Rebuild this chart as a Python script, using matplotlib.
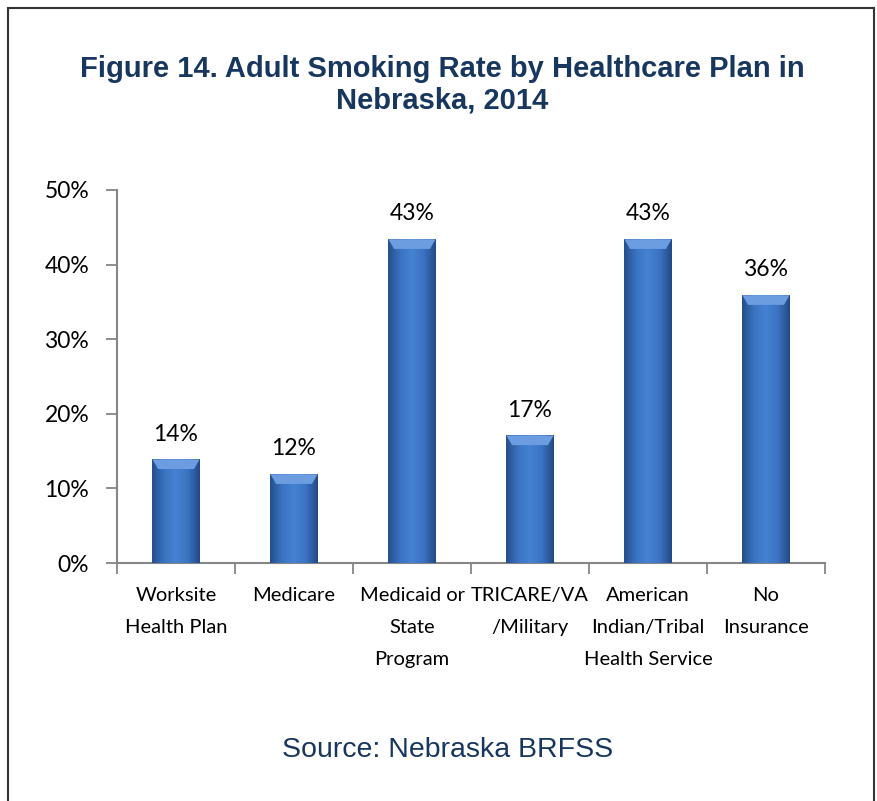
import numpy as np
import matplotlib
matplotlib.use("Agg")
import matplotlib.pyplot as plt
from matplotlib.colors import LinearSegmentedColormap
from matplotlib.patches import Rectangle, Polygon

# data
plans = ["Worksite\nHealth Plan", "Medicare", "Medicaid or\nState\nProgram",
         "TRICARE/VA\n/Military", "American\nIndian/Tribal\nHealth Service",
         "No\nInsurance"]
rates = [13.9, 11.9, 43.4, 17.1, 43.4, 35.9]

title = "Figure 14. Adult Smoking Rate by Healthcare Plan in\nNebraska, 2014"
source = "Source: Nebraska BRFSS"

navy = "#17375E"
axis_gray = "#868686"

fig = plt.figure(figsize=(8.78, 8.01), dpi=100)
ax = fig.add_axes([0.1333, 0.2971, 0.9396 - 0.1333, 0.7628 - 0.2971])

x = np.arange(len(plans))
bars = ax.bar(x, rates, width=0.4, color="#3B72C0", zorder=2)

# shaded look of the bars
cmap = LinearSegmentedColormap.from_list(
    "bar", ["#264f8c", "#3a73c2", "#4582d2", "#3a73c2", "#244a85"])
grad = np.linspace(0, 1, 64).reshape(1, -1)
for b in bars:
    x0, w, h = b.get_x(), b.get_width(), b.get_height()
    im = ax.imshow(grad, cmap=cmap, aspect="auto", extent=[x0, x0 + w, 0, h],
                   zorder=3)
    im.set_clip_path(b)
    bev = 0.12 * w
    bh = 1.3
    ax.add_patch(Polygon([[x0, h], [x0 + w, h], [x0 + w - bev, h - bh],
                          [x0 + bev, h - bh]], closed=True,
                         facecolor="#6b9de0", edgecolor="none", zorder=4))
    ax.annotate(f"{round(h)}%", (x0 + w / 2, h), xytext=(0, 13.5),
                textcoords="offset points", ha="center", va="baseline",
                fontsize=16.5, family="Lato", color="black")

ax.set_xlim(-0.5, len(plans) - 0.5)
ax.set_ylim(0, 50)
ax.set_yticks(range(0, 51, 10))
ax.set_yticklabels([f"{v}%" for v in range(0, 51, 10)], family="Lato",
                   fontsize=16.5)
ax.set_xticks(x)
ax.set_xticklabels(plans, family="Lato", fontsize=14.5, linespacing=2.1,
                   va="top")
ax.tick_params(axis="x", length=0, pad=17)
ax.set_xticks(np.arange(-0.5, len(plans)), minor=True)
ax.tick_params(axis="x", which="minor", length=8, width=1.3, color=axis_gray,
               direction="out")
ax.tick_params(axis="y", length=8, width=1.3, color=axis_gray, pad=12)

for s in ["top", "right"]:
    ax.spines[s].set_visible(False)
for s in ["left", "bottom"]:
    ax.spines[s].set_color(axis_gray)
    ax.spines[s].set_linewidth(1.5)

fig.text(442 / 878, 1 - 85 / 801, title, ha="center", va="center",
         fontsize=21, fontweight="bold", family="Liberation Sans", color=navy,
         linespacing=1.15)
fig.text(448 / 878, 1 - 750 / 801, source, ha="center", va="center",
         fontsize=20.5, family="Liberation Sans", color=navy)

fig.patches.append(Rectangle((8 / 878, -0.02), (874 - 8) / 878, 1 - 8 / 801 + 0.02,
                             transform=fig.transFigure, fill=False,
                             edgecolor="#333333", linewidth=1.5))

fig.savefig("out.png", dpi=100)
